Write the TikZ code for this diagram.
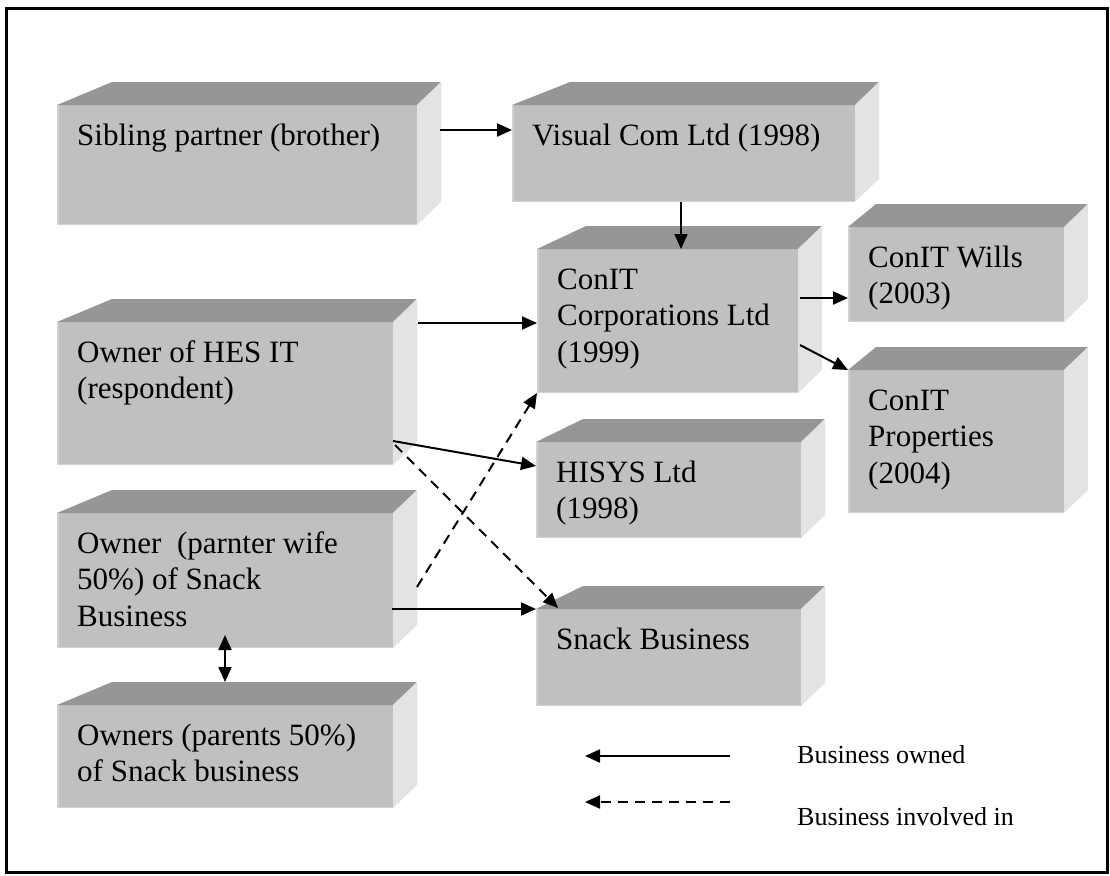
\documentclass[tikz,border=0pt]{standalone}
\usepackage{fontspec}
\setmainfont{Liberation Serif}
\usetikzlibrary{arrows.meta,calc}

\definecolor{frontc}{HTML}{C0C0C0}
\definecolor{topc}{HTML}{969696}
\definecolor{sidec}{HTML}{E3E3E3}
\definecolor{edgec}{HTML}{D2D2D2}

\tikzset{
  face/.style={fill=frontc, draw=none, inner sep=0pt, outer sep=0pt, rectangle, anchor=north west},
  edge/.style={draw=edgec, line width=1.5pt},
  boxtext/.style={anchor=base west, inner sep=0pt, font=\fontsize{31}{36.5}\selectfont},
  legendtext/.style={anchor=base west, inner sep=0pt, font=\fontsize{26}{30}\selectfont},
  own/.style={line width=2pt, -{Triangle[length=15pt,width=13pt]}},
  inv/.style={own, dash pattern=on 10pt off 7pt},
  both/.style={line width=2pt, {Triangle[length=15pt,width=13pt]}-{Triangle[length=15pt,width=13pt]}},
}

% #1 name, #2 #3 front top-left, #4 #5 front bottom-right, #6 left depth of the top face, #7 text
\newcommand\cubebox[7]{%
  \node[face, minimum width={#4-#2}, minimum height={#5-#3}] (#1) at (#2,#3) {};
  \fill[topc] (#1.north west) -- ++(#6,-23) -- ($(#1.north east)+(24,-23)$) -- (#1.north east) -- cycle;
  \fill[sidec] (#1.north east) -- ++(24,-23) -- ($(#1.south east)+(24,-23)$) -- (#1.south east) -- cycle;
  \draw[edge] ($(#1.north west)+(0.75,0)$) -- ($(#1.south west)+(0.75,-0.75)$) -- ($(#1.south east)+(0,-0.75)$);
  \node[boxtext] (#1-t) at ($(#1.north west)+(20,40)$) {\begin{tabular}[t]{@{}l@{}}#7\end{tabular}};
}

\begin{document}
\begin{tikzpicture}[x=1pt, y=-1pt]
  \useasboundingbox (0,0) rectangle (1110,875);
  \draw[line width=3pt] (6,8.5) rectangle (1107,872.5);

  \cubebox{sib}{57}{105}{417}{225}{55}{Sibling partner (brother)}
  \cubebox{vis}{512}{105}{855}{202}{58}{Visual Com Ltd (1998)}
  \cubebox{corp}{537}{249}{798}{393}{49}{ConIT\\Corporations Ltd\\(1999)}
  \cubebox{wills}{848}{227}{1064}{322}{28}{ConIT Wills\\(2003)}
  \cubebox{props}{848}{370}{1064}{513}{28}{ConIT\\Properties\\(2004)}
  \cubebox{hes}{57}{322}{393}{465}{55}{Owner of HES IT\\(respondent)}
  \cubebox{hisys}{536}{442}{801}{538}{47}{HISYS Ltd\\(1998)}
  \cubebox{wife}{57}{513}{393}{648}{55}{Owner\ \ (parnter wife\\50\%) of Snack\\Business}
  \cubebox{snack}{536}{609}{801}{706}{47}{Snack Business}
  \cubebox{parents}{57}{705}{393}{808}{55}{Owners (parents 50\%)\\of Snack business}

  % ownership links
  \draw[own] ($(sib.north east)+(23,25)$) -- ($(vis.north west)+(0,25)$);
  \draw[own] ($(vis.south west)+(169,0)$) -- ($(corp.north west)+(144,0)$);
  \draw[own] ($(hes.north east)+(25,1)$) -- ($(corp.north west)+(0,74)$);
  \draw[own] ($(hes.south east)+(0,-24)$) -- ($(hisys.north west)+(0,24)$);
  \draw[own] ($(wife.north east)+(-1,96)$) -- (snack.north west);
  \draw[own] ($(corp.north east)+(2,49)$) -- ($(wills.south west)+(0,-24)$);
  \draw[own] ($(corp.north east)+(2,96)$) -- (props.north west);
  \draw[both] ($(wife.south west)+(168,-13)$) -- ($(parents.north west)+(168,-23)$);

  % involvement links
  \draw[inv] ($(hes.south east)+(2,-20)$) -- ($(snack.north west)+(22,-1)$);
  \draw[inv] ($(wife.north east)+(24,74)$) -- (corp.south west);

  % key
  \coordinate (k1a) at (730,756);
  \coordinate (k1b) at (585,756);
  \coordinate (k2a) at (730,802);
  \coordinate (k2b) at (585,802);
  \draw[own] (k1a) -- (k1b);
  \draw[inv] (k2a) -- (k2b);
  \node[legendtext] (k1t) at (797,763) {Business owned};
  \node[legendtext] (k2t) at (797,825) {Business involved in};
\end{tikzpicture}
\end{document}
